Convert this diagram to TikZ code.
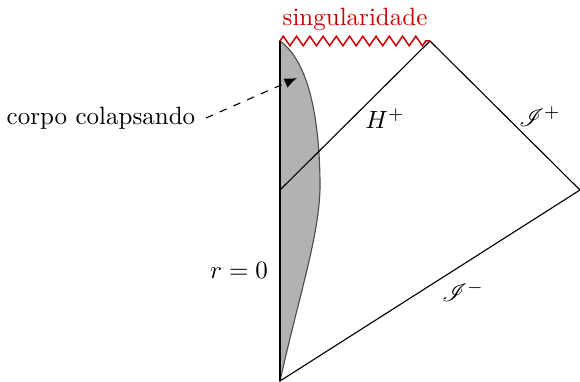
\documentclass[tikz,border=0pt]{standalone}
\usepackage{mathrsfs}
\usetikzlibrary{arrows.meta,decorations.pathmorphing}
\begin{document}
\begin{tikzpicture}[x=0.40pt,y=0.40pt,edge/.style={line width=0.45pt},singline/.style={red!80!black,line width=0.6pt,decorate,decoration={zigzag,segment length=5.3pt,amplitude=1.9pt}},body/.style={fill=gray!60,draw=black!70,line width=0.45pt},lbl/.style={font=\normalsize}]
\useasboundingbox (0,0) rectangle (580,381);
\coordinate (O) at (280,0);
\coordinate (T) at (280,340);
\coordinate (S) at (430,340);
\coordinate (I) at (580,191);
\coordinate (H) at (280,191);
\coordinate (M) at (320,200);
\coordinate (P) at (297,303);
\draw[body] (O) .. controls (300,90) and (321,150) .. (M) .. controls (319,275) and (305,322) .. (T) -- cycle;
\draw[edge] (O) -- (T);
\draw[edge] (S) -- (I);
\draw[edge] (I) -- (O);
\draw[edge] (H) -- (S);
\draw[singline] (T) -- (S);
\node[red!80!black] (sing) at (355,362) {singularidade};
\node[lbl,anchor=east] (corpo) at (204,263) {corpo colapsando};
\draw[edge,dashed,-{Latex[length=5pt,width=4pt]}] (corpo.east) ++(2,0) coordinate (Q) (Q) -- (P);
\node[lbl] (hor) at (385,262) {$H^+$};
\node[lbl] (scrip) at (540,264) {$\mathscr{I}^+$};
\node[lbl] (scrim) at (463,89) {$\mathscr{I}^-$};
\node[lbl] (rzero) at (239,111) {$r=0$};
\end{tikzpicture}
\end{document}
